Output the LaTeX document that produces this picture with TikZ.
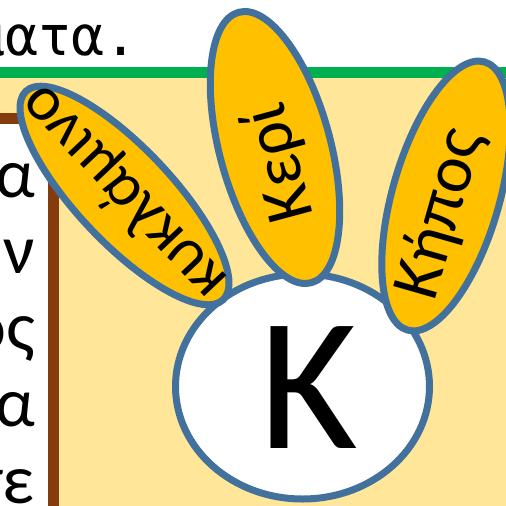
\documentclass[tikz,border=0pt]{standalone}
\usepackage{fontspec}
\setmainfont{Carlito}
\newfontfamily\monofam{DejaVu Sans Mono}
\usetikzlibrary{shapes.geometric}
\definecolor{petalfill}{HTML}{FFC000}
\definecolor{petalline}{HTML}{41719C}
\definecolor{bgyellow}{HTML}{FFE699}
\definecolor{greenline}{HTML}{00B050}
\definecolor{brownline}{HTML}{843C0C}
\begin{document}
\begin{tikzpicture}[x=1pt,y=-1pt,
  petal/.style={ellipse, draw=petalline, fill=petalfill, line width=7pt, inner sep=0pt},
  hub/.style={ellipse, draw=petalline, fill=white, line width=7pt, inner sep=0pt},
  lbl/.style={inner sep=0pt, font=\fontsize{68}{68}\selectfont},
  side/.style={inner sep=0pt, anchor=base east, font=\fontsize{70}{70}\selectfont}]
\useasboundingbox (0,0) rectangle (506,506);
\clip (0,0) rectangle (506,506);
\fill[white] (0,0) rectangle (506,506);
\fill[bgyellow] (0,72.5) rectangle (506,506);
\draw[greenline, line width=11pt] (-5,72.5) -- (511,72.5);
\draw[brownline, line width=11pt, fill=white] (-20,118.5) rectangle (53.5,530);
% top text
\node[inner sep=0pt, anchor=base east, font=\monofam\fontsize{55}{55}\selectfont] (top) at (138,55) {ματα.};
% left column text
\node[side] (l1) at (35,197) {α};
\node[side] (l2) at (35,273.5) {ν};
\node[side] (l3) at (35,350) {ος};
\node[side] (l4) at (35,426.5) {α};
\node[side] (l5) at (35,503) {τε};
% hub
\node[hub, minimum width=254pt, minimum height=225pt] (hub) at (302.5,386.5) {};
\node[inner sep=0pt, font=\fontsize{190}{190}\selectfont] (K) at (309,388) {K};
% petals
\node[petal, rotate=133.4, minimum width=287pt, minimum height=95pt] (p1) at (124.5,195.5) {};
\node[petal, rotate=105, minimum width=280pt, minimum height=111pt] (p2) at (275,147.5) {};
\node[petal, rotate=74, minimum width=279pt, minimum height=107pt] (p3) at (446,196) {};
\node[lbl, rotate=133.4, font=\fontsize{64}{64}\selectfont] (t1) at (124,192) {κυκλάμινο};
\node[lbl, rotate=105] (t2) at (280,163) {Κερί};
\node[lbl, rotate=74] (t3) at (441,214) {Κήπος};
\end{tikzpicture}
\end{document}
